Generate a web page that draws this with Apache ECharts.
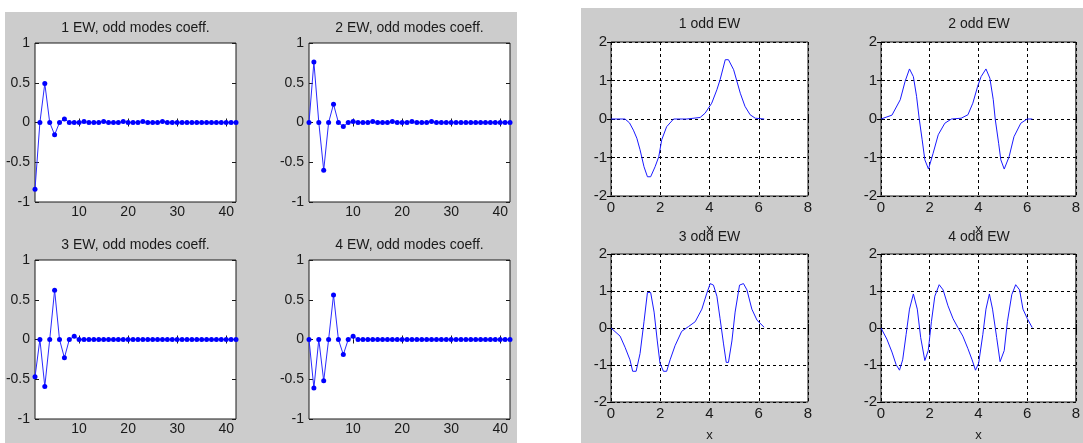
<!DOCTYPE html>
<html>
<head>
<meta charset="utf-8">
<script src="https://cdn.jsdelivr.net/npm/echarts@6/dist/echarts.min.js"></script>
<style>
  html, body { margin: 0; padding: 0; background: #fff; }
  #wrap { position: relative; width: 1083px; height: 443px; overflow: hidden; }
  .panel { position: absolute; background: #cccccc; }
  #chart { position: absolute; left: 0; top: 0; width: 1083px; height: 443px; }
</style>
</head>
<body>
<div id="wrap">
  <div class="panel" style="left:5px;top:12px;width:512px;height:431px;"></div>
  <div class="panel" style="left:581px;top:8px;width:502px;height:435px;"></div>
  <div id="chart"></div>
</div>
<script>
// mode index (x of the coefficient plots)
var modeIndex = [1,2,3,4,5,6,7,8,9,10,11,12,13,14,15,16,17,18,19,20,21,
                 22,23,24,25,26,27,28,29,30,31,32,33,34,35,36,37,38,39,40,41,42];
var coeffTicks = [10, 20, 30, 40];

// odd modes coefficients, one array per EW
var coeff1 = [-0.84,0,0.49,0,-0.155,0,0.045,0,0,0,0.012,0,0,0,0.012,0,0,0,0.012,0,0,
              0,0.012,0,0,0,0.012,0,0,0,0,0,0,0,0,0,0,0,0,0,0,0];
var coeff2 = [0,0.76,0,-0.6,0,0.23,0,-0.05,0,0.012,0,0,0,0.012,0,0,0,0.012,0,0,0,
              0.012,0,0,0,0.012,0,0,0,0,0,0,0,0,0,0,0,0,0,0,0,0];
var coeff3 = [-0.47,0,-0.59,0,0.62,0,-0.23,0,0.04,0,0,0,0,0,0,0,0,0,0,0,0,
              0,0,0,0,0,0,0,0,0,0,0,0,0,0,0,0,0,0,0,0,0];
var coeff4 = [0,-0.61,0,-0.52,0,0.56,0,-0.19,0,0.04,0,0,0,0,0,0,0,0,0,0,0,
              0,0,0,0,0,0,0,0,0,0,0,0,0,0,0,0,0,0,0,0,0];

// odd eigenfunctions (x, value)
var ew1X = [0,0.57,0.75,0.91,1.05,1.18,1.34,1.48,1.61,1.79,1.94,2.06,2.26,2.54,3.08,3.62,3.82,
            4.09,4.3,4.43,4.64,4.77,4.98,5.25,5.44,5.65,5.86,6.22];
var ew1Y = [0,0,-0.1,-0.29,-0.5,-0.8,-1.24,-1.5,-1.5,-1.24,-0.98,-0.54,-0.2,0,0,0.04,0.15,
            0.41,0.76,1.02,1.54,1.54,1.28,0.67,0.33,0.11,0.02,0];

var ew2X = [0,0.45,0.79,0.99,1.17,1.33,1.46,1.57,1.69,1.8,1.95,2.14,2.35,2.62,2.89,3.29,3.57,
            3.77,3.97,4.11,4.31,4.47,4.61,4.69,4.83,4.92,5.06,5.26,5.46,5.74,6.0,6.21];
var ew2Y = [0,0.1,0.5,0.98,1.3,1.1,0.59,0,-0.54,-1.06,-1.3,-0.89,-0.41,-0.11,0,0.02,0.11,
            0.41,0.85,1.1,1.3,1.06,0.5,0,-0.63,-1.06,-1.3,-0.98,-0.46,-0.11,0,0];

var ew3X = [0,0.37,0.57,0.77,0.88,1.02,1.18,1.34,1.48,1.61,1.75,1.88,1.99,2.13,2.26,2.4,2.6,
            2.87,3.15,3.42,3.69,3.89,4.03,4.16,4.3,4.43,4.57,4.68,4.77,4.91,5.04,5.22,5.38,
            5.52,5.72,5.93,6.22];
var ew3Y = [0,-0.22,-0.52,-0.86,-1.17,-1.17,-0.69,0.17,0.96,0.96,0.43,-0.35,-0.95,-1.17,-1.17,
            -0.86,-0.48,-0.09,0.04,0.17,0.51,0.94,1.2,1.16,0.86,0.25,-0.43,-0.93,-0.93,-0.35,
            0.43,1.16,1.2,1.03,0.51,0.21,0.02];

var ew4X = [0,0.24,0.45,0.62,0.76,0.89,1.03,1.17,1.33,1.49,1.63,1.8,1.94,2.07,2.21,2.39,2.55,
            2.75,2.96,3.16,3.36,3.57,3.74,3.88,4.01,4.18,4.31,4.45,4.58,4.75,4.89,5.06,5.19,
            5.37,5.53,5.69,5.83,6.01,6.21];
var ew4Y = [0,-0.3,-0.65,-0.99,-1.14,-0.86,-0.18,0.51,0.92,0.51,-0.26,-0.88,-0.61,0.17,0.86,
            1.17,1.03,0.6,0.25,0.01,-0.22,-0.56,-0.86,-1.14,-0.95,-0.18,0.51,0.92,0.51,-0.26,
            -0.91,-0.61,0.17,0.9,1.17,1.03,0.51,0.25,0.01];

var ewTicks = [0, 2, 4, 6, 8];

var coeffTitles = ['1 EW, odd modes coeff.', '2 EW, odd modes coeff.',
                   '3 EW, odd modes coeff.', '4 EW, odd modes coeff.'];
var ewTitles = ['1 odd EW', '2 odd EW', '3 odd EW', '4 odd EW'];

var chart = echarts.init(document.getElementById('chart'), null, {renderer: 'canvas'});

var FONT = 'Liberation Sans, Arial, sans-serif';
var BLUE = '#0000ff';

// plot boxes
var boxes = [
  {left: 35,  top: 43,  width: 201, height: 159},
  {left: 309, top: 43,  width: 201, height: 159},
  {left: 35,  top: 260, width: 201, height: 159},
  {left: 309, top: 260, width: 201, height: 159},
  {left: 611, top: 42,  width: 197, height: 154},
  {left: 881, top: 42,  width: 196, height: 154},
  {left: 611, top: 254, width: 197, height: 155},
  {left: 881, top: 254, width: 196, height: 155}
];

function pairs(xs, ys) {
  var out = [];
  for (var i = 0; i < xs.length; i++) out.push([xs[i], ys[i]]);
  return out;
}

var grid = [], xAxis = [], yAxis = [], series = [], title = [];

boxes.forEach(function (b, i) {
  grid.push({
    left: b.left, top: b.top, width: b.width, height: b.height,
    show: true, backgroundColor: '#ffffff', borderColor: '#1a1a1a', borderWidth: 1
  });
});

var tickLabel = {color: '#1a1a1a', fontSize: 14, fontFamily: FONT};

// coefficient plots
for (var i = 0; i < 4; i++) {
  xAxis.push({
    gridIndex: i, type: 'value', min: 1, max: 42, position: 'bottom',
    axisLine: {show: false},
    axisTick: {show: true, inside: true, length: 4, customValues: coeffTicks, lineStyle: {color: '#1a1a1a'}},
    axisLabel: Object.assign({margin: 3, customValues: coeffTicks}, tickLabel),
    splitLine: {show: false}
  });
  xAxis.push({
    gridIndex: i, type: 'value', min: 1, max: 42, position: 'top',
    axisLine: {show: false},
    axisTick: {show: true, inside: true, length: 4, customValues: coeffTicks, lineStyle: {color: '#1a1a1a'}},
    axisLabel: {show: false},
    splitLine: {show: false}
  });
  yAxis.push({
    gridIndex: i, type: 'value', min: -1, max: 1, interval: 0.5, position: 'left',
    axisLine: {show: false},
    axisTick: {show: true, inside: true, length: 4, lineStyle: {color: '#1a1a1a'}},
    axisLabel: Object.assign({margin: 5}, tickLabel),
    splitLine: {show: false}
  });
  yAxis.push({
    gridIndex: i, type: 'value', min: -1, max: 1, interval: 0.5, position: 'right',
    axisLine: {show: false},
    axisTick: {show: true, inside: true, length: 4, lineStyle: {color: '#1a1a1a'}},
    axisLabel: {show: false},
    splitLine: {show: false}
  });
}

var coeffs = [coeff1, coeff2, coeff3, coeff4];
coeffs.forEach(function (c, i) {
  series.push({
    type: 'line', xAxisIndex: i * 2, yAxisIndex: i * 2,
    data: pairs(modeIndex, c),
    symbol: 'circle', symbolSize: 5, showSymbol: true,
    lineStyle: {color: '#2a2aff', width: 1},
    itemStyle: {color: BLUE},
    silent: true
  });
});

// eigenfunction plots
for (var j = 4; j < 8; j++) {
  xAxis.push({
    gridIndex: j, type: 'value', min: 0, max: 8, interval: 2, position: 'bottom',
    name: 'x', nameLocation: 'middle', nameGap: 27,
    nameTextStyle: {color: '#1a1a1a', fontSize: 13, fontFamily: FONT},
    axisLine: {show: false},
    axisTick: {show: true, inside: true, length: 4, lineStyle: {color: '#000'}},
    axisLabel: Object.assign({margin: 4}, tickLabel, {fontSize: 15}),
    splitLine: {show: true, lineStyle: {color: '#000', type: [3, 3], width: 1}}
  });
  xAxis.push({
    gridIndex: j, type: 'value', min: 0, max: 8, interval: 2, position: 'top',
    axisLine: {show: false},
    axisTick: {show: true, inside: true, length: 4, lineStyle: {color: '#000'}},
    axisLabel: {show: false},
    splitLine: {show: false}
  });
  yAxis.push({
    gridIndex: j, type: 'value', min: -2, max: 2, interval: 1, position: 'left',
    axisLine: {show: false},
    axisTick: {show: true, inside: true, length: 4, lineStyle: {color: '#000'}},
    axisLabel: Object.assign({margin: 4}, tickLabel, {fontSize: 15}),
    splitLine: {show: true, lineStyle: {color: '#000', type: [3, 3], width: 1}}
  });
  yAxis.push({
    gridIndex: j, type: 'value', min: -2, max: 2, interval: 1, position: 'right',
    axisLine: {show: false},
    axisTick: {show: true, inside: true, length: 4, lineStyle: {color: '#000'}},
    axisLabel: {show: false},
    splitLine: {show: false}
  });
}

var ews = [[ew1X, ew1Y], [ew2X, ew2Y], [ew3X, ew3Y], [ew4X, ew4Y]];
ews.forEach(function (e, k) {
  var ax = (4 + k) * 2;
  series.push({
    type: 'line', xAxisIndex: ax, yAxisIndex: ax,
    data: pairs(e[0], e[1]),
    symbol: 'none', showSymbol: false,
    lineStyle: {color: '#1a1aff', width: 1},
    silent: true
  });
});

// titles
var titleTops = [21, 21, 238, 238, 17, 17, 230, 230];
boxes.forEach(function (b, i) {
  title.push({
    text: i < 4 ? coeffTitles[i] : ewTitles[i - 4],
    left: b.left + b.width / 2, top: titleTops[i], textAlign: 'center', padding: 0,
    textStyle: {fontSize: 14, fontWeight: 'normal', color: '#1a1a1a', fontFamily: FONT}
  });
});

var option = {
  animation: false,
  backgroundColor: 'transparent',
  title: title,
  grid: grid,
  xAxis: xAxis,
  yAxis: yAxis,
  series: series
};
chart.setOption(option);
</script>
</body>
</html>
